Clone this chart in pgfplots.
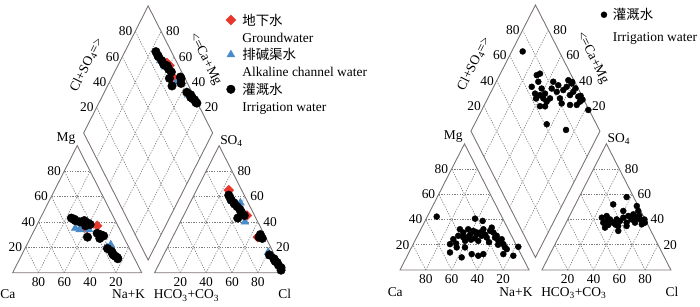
\documentclass[border=0pt]{standalone}
\usepackage{pgfplots}
\pgfplotsset{compat=1.18}
\usepackage{pgfplotstable}
\usepackage{fontspec}
\setmainfont{Liberation Serif}
\newfontfamily\cjk{Noto Sans CJK SC}
\definecolor{framec}{RGB}{125,115,115}
\definecolor{gridc}{RGB}{125,125,125}
\definecolor{gwred}{RGB}{232,55,45}
\definecolor{acblue}{RGB}{74,140,202}

% ---------- left diagram ----------
\pgfplotstableread{
Mg NaK
36 37
37 47
35 40
}\LcatRed
\pgfplotstableread{
Mg NaK
35 31
34 35
34 42
20 63
22 65
18 66
}\LcatBlue
\pgfplotstableread{
Mg NaK
43 24
42 27
41 28
40 32
41 35
39 37
39 39
38 41
37 38
28 44
31 50
30 53
29 56
27 54
19 64
17 68
15 70
13 73
12 75
14 71
16 69
11 76
}\LcatBlack
\pgfplotstableread{
SO4 Cl
65 25
45 49
28 66
}\LanRed
\pgfplotstableread{
SO4 Cl
57 31
55 39
40 50
16 80
13 83
}\LanBlue
\pgfplotstableread{
SO4 Cl
61 27
59 29
57 31
55 34
54 35
52 38
50 41
48 43
47 44
45 47
43 43
30 67
28 67
27 70
14 82
11 87
9 89
8 91
6 93
4 96
10 88
2 97
}\LanBlack
\pgfplotstableread{
CaMg ClSO4
63 92
53 91
60 93
}\LdiaRed
\pgfplotstableread{
CaMg ClSO4
69 88
63 89
48 92
36 96
34 96
}\LdiaBlue
\pgfplotstableread{
CaMg ClSO4
76 88
73 88
72 88
68 89
65 89
63 90
61 91
59 91
62 91
56 92
50 87
55 88
47 97
44 95
46 97
36 96
32 98
30 98
27 99
25 99
29 98
31 97
24 99.5
}\LdiaBlack

% ---------- right diagram ----------
\pgfplotstableread{
Mg NaK
42.3 7.3
40.7 37.8
38.9 44.6
20.5 28.5
13.9 31.8
24.4 29.1
27.1 31.6
32.3 30.3
29.7 34.2
17.9 41.4
25.7 38.8
32.3 36.7
27.9 40.3
12.6 49.3
31.0 41.3
25.2 45.5
28.3 45.2
23.1 49.1
29.7 47.2
27.1 49.8
11.3 55.0
12.6 58.3
25.7 54.4
31.0 54.3
33.6 54.3
29.7 57.5
25.7 60.8
27.1 61.4
23.1 64.7
24.4 66.6
20.5 69.9
17.9 72.4
12.6 73.8
16.5 74.5
11.3 82.2
18.4 82.5
32.3 48.5
17.9 35.0
10.0 42.8
23.1 38.9
26 36
24 43
28 52
22 58
20 66
30 44
21 33
}\RcatBlack
\pgfplotstableread{
SO4 Cl
57.8 36.8
52.0 29.3
46.8 39.7
50.7 48.2
46.8 51.3
41.5 25.7
42.8 28.8
40.1 32.7
37.5 28.8
37.5 36.5
40.1 37.9
34.9 41.7
35.7 33.6
41.5 42.4
37.5 46.9
42.8 45.6
40.1 49.5
44.1 48.8
37.5 53.4
41.5 52.8
40.1 55.9
38.9 59.2
37.5 61.0
40.0 59.5
36.2 59.3
33.6 32.1
31.0 43.7
34.9 48.2
38.9 41.1
39 31
36 39
43 54
}\RanBlack
\pgfplotstableread{
CaMg ClSO4
91.5 71.7
70.5 64.7
71.2 73.2
69.3 76.3
67.4 71.8
62.1 71.7
60.8 67.8
56.9 69.1
57.5 72.3
53.0 70.4
51.7 74.3
54.3 79.5
55.8 83.4
49.1 82.1
50.5 85.9
44.0 82.0
44.7 87.9
43.4 91.8
44.7 95.7
37.5 91.1
40.8 97.0
36.3 94.9
41 98
36 98
30.5 96.9
27.2 96.2
29 99
26 99
17.4 99.4
44.0 61.5
26.8 74.2
65.2 64.6
40.7 81.3
33.6 87.2
28.4 92.4
62.5 63.4
52.4 67.3
56.4 63.4
}\RdiaBlack

\tikzset{
  lab/.style={font=\fontsize{13.5}{16}\selectfont, inner sep=0pt, outer sep=0pt},
  frm/.style={draw=framec, line width=0.9bp},
  grd/.style={draw=gridc, line width=0.6bp, dash pattern=on 1.3bp off 1.3bp},
}

\pgfplotsset{
  /pgfplots/table/catplot/.style={x expr={\thisrow{NaK}+0.5*\thisrow{Mg}}, y expr={0.866025*\thisrow{Mg}}},
  /pgfplots/table/anplot/.style={x expr={110+\thisrow{Cl}+0.5*\thisrow{SO4}}, y expr={0.866025*\thisrow{SO4}}},
  /pgfplots/table/diaplot/.style={x expr={105+0.5*(\thisrow{ClSO4}-\thisrow{CaMg})}, y expr={8.66025+0.866025*(\thisrow{ClSO4}+\thisrow{CaMg})}},
  redm/.style={only marks, color=gwred, mark=square*, mark size=3.5bp, mark options={rotate=45, fill=gwred, draw=gwred}},
  bluem/.style={only marks, color=acblue, mark=triangle*, mark size=4.6bp, mark options={fill=acblue, draw=acblue}},
  blackm/.style={only marks, color=black, mark=*, mark size=#1, mark options={fill=black, draw=black}},
  piperaxis/.style={scale only axis, height=307bp, hide axis, clip=false,
    legend cell align=left,
    legend image code/.code={\draw[##1] plot coordinates {(0bp,1.5bp)};}},
}

\newcommand{\piperframe}{%
  \pgfplotsinvokeforeach{20,40,60,80}{%
    \draw[grd] (axis cs:{##1/2},{0.866025*##1}) -- (axis cs:{100-##1/2},{0.866025*##1});
    \draw[grd] (axis cs:##1,0) -- (axis cs:{50+##1/2},{0.866025*(100-##1)});
    \draw[grd] (axis cs:{100-##1},0) -- (axis cs:{(100-##1)/2},{0.866025*(100-##1)});
    \draw[grd] (axis cs:{110+##1/2},{0.866025*##1}) -- (axis cs:{210-##1/2},{0.866025*##1});
    \draw[grd] (axis cs:{110+##1},0) -- (axis cs:{160+##1/2},{0.866025*(100-##1)});
    \draw[grd] (axis cs:{210-##1},0) -- (axis cs:{110+(100-##1)/2},{0.866025*(100-##1)});
    \draw[grd] (axis cs:{105+##1/2},{8.66025+0.866025*##1}) -- (axis cs:{55+##1/2},{95.2628+0.866025*##1});
    \draw[grd] (axis cs:{105-##1/2},{8.66025+0.866025*##1}) -- (axis cs:{155-##1/2},{95.2628+0.866025*##1});
    \node[lab, anchor=base] at (axis cs:##1,-9.2) {\the\numexpr100-##1\relax};
    \node[lab, anchor=base] at (axis cs:{110+##1},-9.2) {##1};
    \node[lab, anchor=east, xshift=-3.5bp] at (axis cs:{##1/2},{0.866025*##1}) {##1};
    \node[lab, anchor=west, xshift=5.5bp] at (axis cs:{210-##1/2},{0.866025*##1}) {##1};
    \node[lab, anchor=east, xshift=-3bp] at (axis cs:{55+##1/2},{95.2628+0.866025*##1}) {##1};
    \node[lab, anchor=west, xshift=5bp] at (axis cs:{155-##1/2},{95.2628+0.866025*##1}) {##1};
  }%
  \draw[frm] (axis cs:0,0) -- (axis cs:100,0) -- (axis cs:50,86.6025) -- cycle;
  \draw[frm] (axis cs:110,0) -- (axis cs:210,0) -- (axis cs:160,86.6025) -- cycle;
  \draw[frm] (axis cs:105,8.66025) -- (axis cs:55,95.2628) -- (axis cs:105,181.865) -- (axis cs:155,95.2628) -- cycle;
  \node[lab, anchor=base] at (axis cs:41.3,89.3) {Mg};
  \node[lab, anchor=base west] at (axis cs:160.9,87.7) {SO\textsubscript{4}};
  \node[lab, anchor=base west] at (axis cs:-9.5,-17.9) {Ca};
  \node[lab, anchor=base] at (axis cs:89.9,-17.9) {Na+K};
  \node[lab, anchor=base west] at (axis cs:109.5,-17.9) {HCO\textsubscript{3}+CO\textsubscript{3}};
  \node[lab, anchor=base west] at (axis cs:205.9,-17.9) {Cl};
  \node[lab, rotate=63.2] at (axis cs:57.4,141.6) {Cl+SO\textsubscript{4}=>};
  \node[lab, rotate=-63.2] at (axis cs:149.1,145.5) {<=Ca+Mg};
}

\begin{document}
\begin{tikzpicture}
\useasboundingbox (0,0) rectangle (700bp,307bp);
\begin{axis}[piperaxis, at={(0bp,0bp)}, anchor=south west,
  width=350bp, xmin=-9.845, xmax=261.473, ymin=-23.38, ymax=185.89,
  legend style={draw=none, fill=none, inner sep=0pt, outer sep=0pt,
    at={(axis cs:165.3,176.3)}, anchor=north west,
    font=\fontsize{13.5}{16}\selectfont, row sep=2.3bp, column sep=5.5bp,
    nodes={inner sep=1bp, text height=10bp, text depth=3bp}},
]
\piperframe
\addplot[redm] table[catplot] {\LcatRed};
\addlegendentry{\cjk 地下水}
\addlegendimage{empty legend}
\addlegendentry{Groundwater}
\addplot[bluem] table[catplot] {\LcatBlue};
\addlegendentry{\cjk 排碱渠水}
\addlegendimage{empty legend}
\addlegendentry{Alkaline channel water}
\addplot[blackm=4.3bp] table[catplot] {\LcatBlack};
\addlegendentry{\cjk 灌溉水}
\addlegendimage{empty legend}
\addlegendentry{Irrigation water}
\addplot[redm, forget plot] table[anplot] {\LanRed};
\addplot[bluem, forget plot] table[anplot] {\LanBlue};
\addplot[blackm=4.3bp, forget plot] table[anplot] {\LanBlack};
\addplot[redm, forget plot] table[diaplot] {\LdiaRed};
\addplot[bluem, forget plot] table[diaplot] {\LdiaBlue};
\addplot[blackm=4.3bp, forget plot] table[diaplot] {\LdiaBlack};
\end{axis}
\begin{axis}[piperaxis, at={(350bp,0bp)}, anchor=south west,
  width=350bp, xmin=-38.76, xmax=232.558, ymin=-25.39, ymax=185.30,
  legend style={draw=none, fill=none, inner sep=0pt, outer sep=0pt,
    at={(axis cs:155.8,179.3)}, anchor=north west,
    font=\fontsize{13.5}{16}\selectfont, row sep=6.5bp, column sep=5bp,
    nodes={inner sep=1bp, text height=10bp, text depth=3bp}},
]
\piperframe
\addplot[blackm=3bp] table[catplot] {\RcatBlack};
\addlegendentry{\cjk 灌溉水}
\addlegendimage{empty legend}
\addlegendentry{Irrigation water}
\addplot[blackm=3bp, forget plot] table[anplot] {\RanBlack};
\addplot[blackm=3bp, forget plot] table[diaplot] {\RdiaBlack};
\end{axis}
\end{tikzpicture}
\end{document}
